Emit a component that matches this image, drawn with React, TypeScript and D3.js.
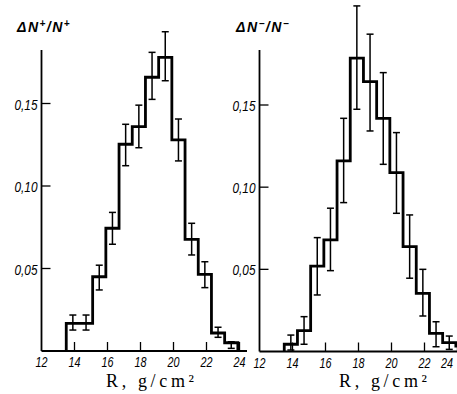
import React from "react";
import * as d3 from "d3";

const binStart = 13.5;
const binWidth = 0.8;

// Left panel: ΔN+/N+
const plusValues = [0.0168, 0.0168, 0.045, 0.0744, 0.1253, 0.136, 0.1659, 0.178, 0.1279, 0.0677, 0.0465, 0.0109, 0.005];
const plusErrLow = [0.0127, 0.0127, 0.037, 0.0647, 0.1123, 0.1232, 0.1525, 0.1638, 0.1152, 0.0582, 0.0384, 0.0083, 0.0016];
const plusErrHigh = [0.0218, 0.0218, 0.052, 0.084, 0.1374, 0.149, 0.181, 0.1935, 0.1406, 0.0774, 0.0541, 0.0144, 0.0056];

// Right panel: ΔN-/N-
const minusValues = [0.0044, 0.0127, 0.052, 0.0679, 0.116, 0.1785, 0.1642, 0.1419, 0.1088, 0.0638, 0.0354, 0.011, 0.0054, 0.0033];
const minusErrLow = [0.0009, 0.0044, 0.0344, 0.0492, 0.0906, 0.1474, 0.1342, 0.1139, 0.0841, 0.0446, 0.0216, 0.0029, 0.0013, null];
const minusErrHigh = [0.01, 0.0212, 0.0693, 0.0872, 0.1419, 0.2103, 0.1931, 0.1697, 0.1332, 0.0831, 0.05, 0.0181, 0.0094, null];

const xTicks = [12, 14, 16, 18, 20, 22, 24];
const yTicks = [0.05, 0.1, 0.15];
const yTickLabels = ["0,05", "0,10", "0,15"];

type PanelProps = {
  axisX: number;
  y0: number;
  y15: number;
  xEnd: number;
  values: number[];
  lo: (number | null)[];
  hi: (number | null)[];
  sign: string;
  titleX: number;
  axisLabelX: number;
  maxLabelX: number;
};

function Panel(p: PanelProps) {
  const x = d3.scaleLinear().domain([12, 24]).range([p.axisX, p.axisX + 12 * 16.5]);
  const y = d3.scaleLinear().domain([0, 0.15]).range([p.y0, p.y15]);
  const pts: [number, number][] = [];
  pts.push([binStart, 0]);
  p.values.forEach((v, i) => {
    const a = binStart + i * binWidth;
    pts.push([a, v]);
    pts.push([a + binWidth, v]);
  });
  pts.push([binStart + p.values.length * binWidth, 0]);
  const line = d3.line<[number, number]>().x((d) => x(d[0])).y((d) => y(d[1]));
  const cap = 3.5;
  return (
    <g>
      {/* axes */}
      <line x1={p.axisX} x2={p.axisX} y1={50} y2={p.y0} stroke="#000" strokeWidth={1.8} />
      <line x1={p.axisX} x2={p.xEnd} y1={p.y0} y2={p.y0} stroke="#000" strokeWidth={1.8} />
      {yTicks.map((t, i) => (
        <g key={t}>
          <line x1={p.axisX} x2={p.axisX + 9} y1={y(t)} y2={y(t)} stroke="#000" strokeWidth={1.3} />
          <text
            x={p.axisX - 4}
            y={y(t) + 6}
            textAnchor="end"
            fontFamily="Liberation Sans, Arial, sans-serif"
            fontStyle="italic"
            fontSize={15}
            textLength={23}
            lengthAdjust="spacingAndGlyphs"
          >
            {yTickLabels[i]}
          </text>
        </g>
      ))}
      {xTicks.map((t) => (
        <g key={t}>
          {t > 12 && (
            <line x1={x(t)} x2={x(t)} y1={p.y0} y2={p.y0 - 9} stroke="#000" strokeWidth={1.3} />
          )}
          <text
            x={Math.min(x(t) - 6, p.maxLabelX)}
            y={p.y0 + 16}
            fontFamily="Liberation Sans, Arial, sans-serif"
            fontStyle="italic"
            fontSize={15}
            textLength={12}
            lengthAdjust="spacingAndGlyphs"
          >
            {t}
          </text>
        </g>
      ))}
      {/* histogram */}
      <path d={line(pts) || ""} fill="none" stroke="#000" strokeWidth={2.8} strokeLinejoin="miter" />
      {/* error bars */}
      {p.values.map((v, i) => {
        const l = p.lo[i];
        const h = p.hi[i];
        if (l == null || h == null) return null;
        const cx = x(binStart + (i + 0.5) * binWidth);
        return (
          <g key={i} stroke="#000" strokeWidth={1.5}>
            <line x1={cx} x2={cx} y1={y(l)} y2={y(h)} />
            <line x1={cx - cap} x2={cx + cap} y1={y(l)} y2={y(l)} />
            <line x1={cx - cap} x2={cx + cap} y1={y(h)} y2={y(h)} />
          </g>
        );
      })}
      {/* title */}
      <text
        x={p.titleX}
        y={32}
        fontFamily="Liberation Sans, Arial, sans-serif"
        fontStyle="italic"
        fontWeight="bold"
        fontSize={14}
        letterSpacing={1.5}
      >
        ΔN
        <tspan fontSize={10} dy={-5}>{p.sign}</tspan>
        <tspan dy={5}>/N</tspan>
        <tspan fontSize={10} dy={-5}>{p.sign}</tspan>
      </text>
      {/* axis label */}
      <text
        x={p.axisLabelX}
        y={387}
        fontFamily="Liberation Serif, Times New Roman, serif"
        fontSize={18}
        textLength={88}
        lengthAdjust="spacing"
      >
        R, g/cm²
      </text>
    </g>
  );
}

export default function App() {
  return (
    <svg width={457} height={394} style={{ position: "absolute", left: 0, top: 0, background: "#fff" }}>
      <rect x={0} y={0} width={457} height={394} fill="#fff" />
      <Panel
        axisX={41.5}
        y0={351}
        y15={103.5}
        xEnd={247}
        values={plusValues}
        lo={plusErrLow}
        hi={plusErrHigh}
        sign="+"
        titleX={17}
        axisLabelX={106}
        maxLabelX={1000}
      />
      <Panel
        axisX={259.5}
        y0={351.5}
        y15={105}
        xEnd={457}
        values={minusValues}
        lo={minusErrLow}
        hi={minusErrHigh}
        sign="−"
        titleX={236}
        axisLabelX={339}
        maxLabelX={441}
      />
    </svg>
  );
}
